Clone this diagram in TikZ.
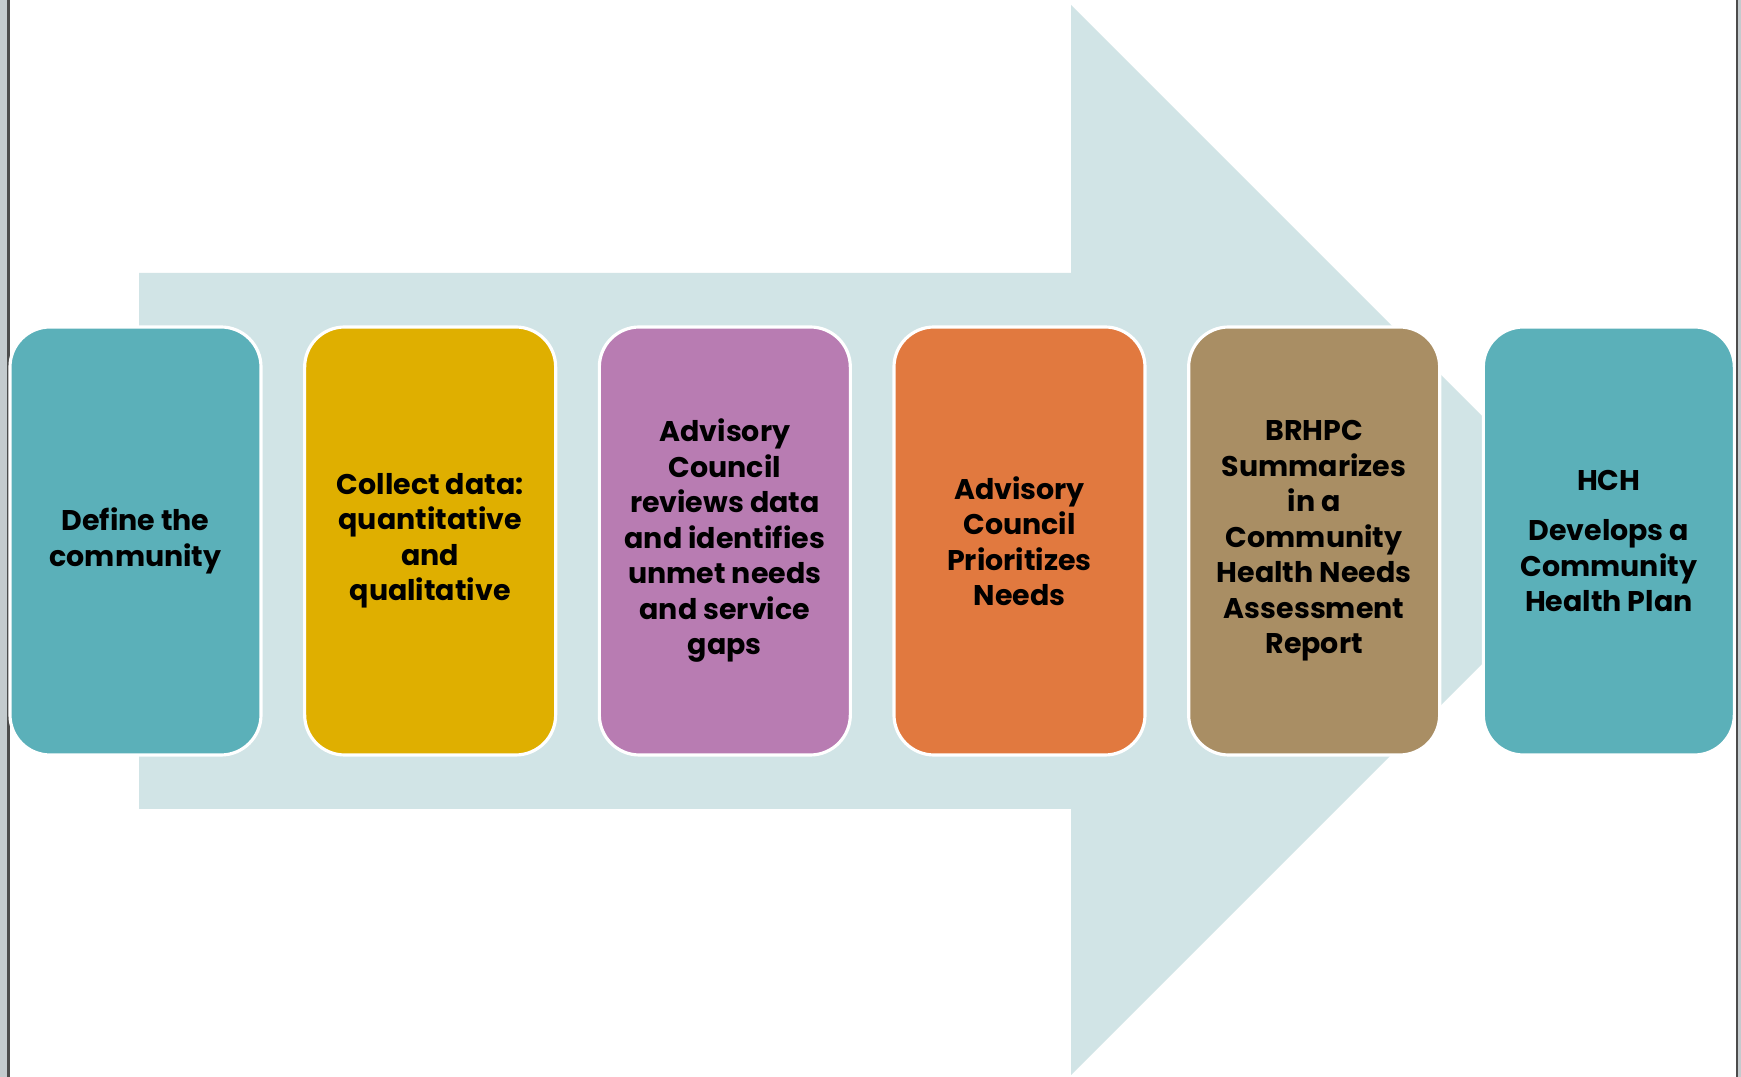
\documentclass[tikz,border=0pt]{standalone}
\usepackage{fontspec}
\setmainfont{Poppins}
\usetikzlibrary{positioning}

\definecolor{arrowblue}{HTML}{D1E4E6}
\definecolor{tealbox}{HTML}{5BB0B9}
\definecolor{goldbox}{HTML}{DFAF00}
\definecolor{plumbox}{HTML}{B87CB2}
\definecolor{orangebox}{HTML}{E1793F}
\definecolor{tanbox}{HTML}{A98E64}
\definecolor{edgegray}{HTML}{C4CBCE}

\begin{document}
\begin{tikzpicture}[
    node distance=0.405cm,
    stage/.style={draw=white, line width=0.9pt, rounded corners=0.4cm,
      minimum width=2.51cm, minimum height=4.28cm, align=center,
      font=\bfseries\fontsize{8.1}{10.1}\selectfont, inner sep=2pt}
  ]
    \useasboundingbox (0,0) rectangle (17.41,10.77);
    \fill[white] (0,0) rectangle (17.41,10.77);
    % window edges of the screenshot
    \fill[edgegray] (0,0) rectangle (0.08,10.77);
    \draw[black!70, line width=0.6pt] (0.085,0) -- (0.085,10.77);
    \fill[edgegray] (17.37,0) rectangle (17.41,10.77);
    \draw[black!70, line width=0.6pt] (17.367,0) -- (17.367,10.77);
    % big arrow behind the steps
    \fill[arrowblue] (1.39,2.68) -- (10.71,2.68) -- (10.71,0.02) -- (16.06,5.37)
      -- (10.71,10.72) -- (10.71,8.04) -- (1.39,8.04) -- cycle;
    \node[stage, fill=tealbox] (define) at (1.355,5.36) {Define the\\community};
    \node[stage, fill=goldbox, right=of define] (collect) {Collect data:\\
      quantitative\\and\\qualitative};
    \node[stage, fill=plumbox, right=of collect] (review) {Advisory\\Council\\
      reviews data\\and identifies\\unmet needs\\and service\\gaps};
    \node[stage, fill=orangebox, right=of review] (prior) {Advisory\\Council\\
      Prioritizes\\Needs};
    \node[stage, fill=tanbox, right=of prior] (report) {BRHPC\\Summarizes\\
      in a\\Community\\Health Needs\\Assessment\\Report};
    \node[stage, fill=tealbox, right=of report] (plan) {HCH\\[0.15cm]
      Develops a\\Community\\Health Plan};
  \end{tikzpicture}
\end{document}
